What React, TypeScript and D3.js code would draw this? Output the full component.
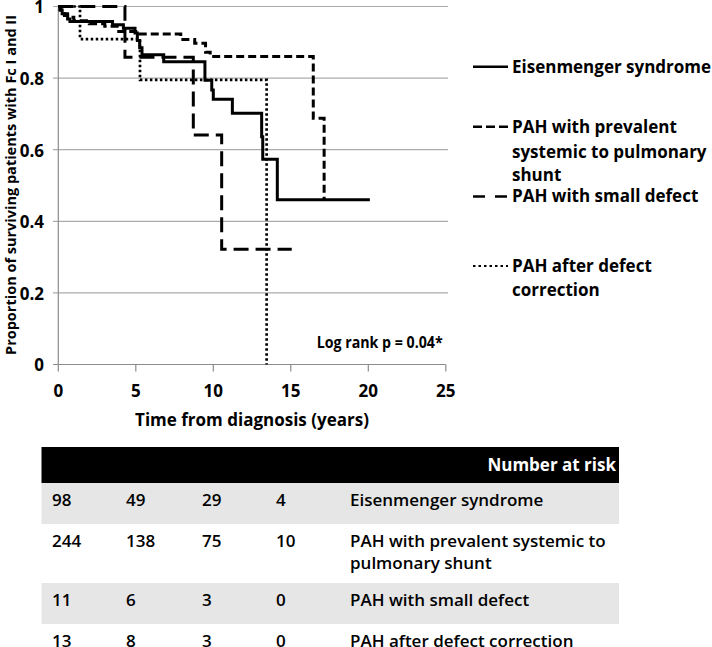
import React from "react";
import * as d3 from "d3";

// ---- data ----
const xTicks = [0, 5, 10, 15, 20, 25];
const yTicks = [0, 0.2, 0.4, 0.6, 0.8, 1];

const esTime = [0, 0.1, 0.25, 0.4, 0.6, 0.75, 3.5, 4.2, 4.95, 5.1, 5.25, 5.4, 6.8, 9.46, 9.9, 10.0, 11.23, 13.12, 13.19, 14.13, 20.1];
const esSurv = [1, 0.99, 0.98, 0.975, 0.965, 0.958, 0.949, 0.939, 0.926, 0.905, 0.885, 0.865, 0.846, 0.794, 0.767, 0.741, 0.702, 0.636, 0.573, 0.46, 0.46];

const shTime = [0, 0.15, 0.35, 0.6, 1.0, 2.0, 3.0, 3.9, 5.2, 7.9, 8.8, 9.5, 9.8, 16.45, 17.15];
const shSurv = [1, 0.99, 0.98, 0.97, 0.96, 0.952, 0.945, 0.93, 0.923, 0.908, 0.897, 0.872, 0.86, 0.688, 0.46];

const sdTime = [0, 4.3, 8.71, 10.54, 15.06];
const sdSurv = [1, 0.858, 0.641, 0.322, 0.322];

const dcTime = [0, 1.4, 5.27, 13.44];
const dcSurv = [1, 0.909, 0.795, 0];

const legendLabels = [
  ["Eisenmenger syndrome"],
  ["PAH with prevalent", "systemic to pulmonary", "shunt"],
  ["PAH with small defect"],
  ["PAH after defect", "correction"],
];

const riskHeader = "Number at risk";
const riskLabels = [
  ["Eisenmenger syndrome"],
  ["PAH with prevalent systemic to", "pulmonary shunt"],
  ["PAH with small defect"],
  ["PAH after defect correction"],
];
const riskEs = [98, 49, 29, 4];
const riskSh = [244, 138, 75, 10];
const riskSd = [11, 6, 3, 0];
const riskDc = [13, 8, 3, 0];

const FONT = "'Open Sans', sans-serif";

export default function App() {
  const x = d3.scaleLinear().domain([0, 25]).range([58.3, 445.8]);
  const y = d3.scaleLinear().domain([0, 1]).range([364.5, 6.5]);

  const line = d3
    .line<[number, number]>()
    .x((d) => x(d[0]))
    .y((d) => y(d[1]))
    .curve(d3.curveStepAfter);

  const zip = (t: number[], s: number[]) => t.map((v, i) => [v, s[i]] as [number, number]);

  const series = [
    { pts: zip(esTime, esSurv), dash: undefined as string | undefined, w: 3, legDash: undefined as string | undefined },
    { pts: zip(shTime, shSurv), dash: "8 4", w: 3, legDash: "9 4" },
    { pts: zip(sdTime, sdSurv), dash: "15 7", w: 3, legDash: "12 10" },
    { pts: zip(dcTime, dcSurv), dash: "2.5 2.5", w: 2.7, legDash: "2.5 3" },
  ];

  const legendLineY = [66.7, 126.7, 196.5, 266];
  const legendTextY = [
    [66.7],
    [126.7, 152, 175.5],
    [196.5],
    [266, 290.5],
  ];

  // table layout
  const tLeft = 41.5;
  const tRight = 619;
  const headerTop = 447;
  const headerH = 36;
  const rowH = [41, 59, 41, 41];
  const colX = [52, 126, 202, 276];
  const labelX = 350;
  const riskRows = [riskEs, riskSh, riskSd, riskDc];

  let rowTop = headerTop + headerH;
  const rows = riskRows.map((vals, i) => {
    const top = rowTop;
    rowTop += rowH[i];
    return { vals, top, h: rowH[i], labels: riskLabels[i], gray: i % 2 === 0 };
  });

  return (
    <svg
      width={712}
      height={647}
      style={{ position: "absolute", left: 0, top: 0, background: "#fff" }}
      fontFamily={FONT}
    >
      {/* gridlines */}
      {yTicks.map((t) =>
        t === 0 ? null : (
          <line key={"g" + t} x1={53} x2={448} y1={y(t)} y2={y(t)} stroke="#ababab" strokeWidth={1.2} />
        )
      )}
      {/* axes */}
      <line x1={x(0)} x2={x(0)} y1={y(1)} y2={y(0)} stroke="#8c8c8c" strokeWidth={1.2} />
      <line x1={53} x2={x(25)} y1={y(0)} y2={y(0)} stroke="#8c8c8c" strokeWidth={1.2} />
      {xTicks.map((t) => (
        <line key={"xt" + t} x1={x(t)} x2={x(t)} y1={y(0)} y2={y(0) + 7} stroke="#8c8c8c" strokeWidth={1.2} />
      ))}
      {yTicks.map((t) => (
        <text key={"yl" + t} x={44} y={y(t) + 1} dy="0.35em" textAnchor="end" fontSize={17} fontWeight={700}>
          {t === 0 || t === 1 ? String(t) : t.toFixed(1)}
        </text>
      ))}
      {xTicks.map((t) => (
        <text key={"xl" + t} x={x(t)} y={397} textAnchor="middle" fontSize={17} fontWeight={700}>
          {t}
        </text>
      ))}
      <text x={252} y={426} textAnchor="middle" fontSize={17} fontWeight={700}>
        Time from diagnosis (years)
      </text>
      <text
        transform={`translate(16,185) rotate(-90)`}
        textAnchor="middle"
        fontSize={14.5}
        fontWeight={700}
      >
        Proportion of surviving patients with Fc I and II
      </text>

      {/* curves */}
      {series.map((s, i) => (
        <path
          key={"s" + i}
          d={line(s.pts) || ""}
          fill="none"
          stroke="#000"
          strokeWidth={s.w}
          strokeDasharray={s.dash}
        />
      ))}

      <text x={316.7} y={347.5} fontSize={16.5} fontWeight={700} textLength={126} lengthAdjust="spacingAndGlyphs">
        Log rank p = 0.04*
      </text>

      {/* legend */}
      {series.map((s, i) => (
        <g key={"lg" + i}>
          <line x1={473} x2={508} y1={legendLineY[i]} y2={legendLineY[i]} stroke="#000" strokeWidth={i === 3 ? 2.2 : 2.5} strokeDasharray={s.legDash} />
          {legendLabels[i].map((lab, j) => (
            <text key={j} x={512} y={legendTextY[i][j]} dy="0.35em" fontSize={17} fontWeight={700}>
              {lab}
            </text>
          ))}
        </g>
      ))}

      {/* risk table */}
      <rect x={tLeft} y={headerTop} width={tRight - tLeft} height={headerH} fill="#000" />
      <text x={tRight - 3} y={headerTop + headerH / 2} dy="0.35em" textAnchor="end" fill="#fff" fontSize={17} fontWeight={700}>
        {riskHeader}
      </text>
      {rows.map((r, i) => (
        <g key={"r" + i}>
          <rect x={tLeft} y={r.top} width={tRight - tLeft} height={r.h} fill={r.gray ? "#e6e6e6" : "#ffffff"} />
          {r.vals.map((v, j) => (
            <text key={j} x={colX[j]} y={r.top + 17} dy="0.35em" fontSize={17} fontWeight={600}>
              {v}
            </text>
          ))}
          {r.labels.map((lab, j) => (
            <text key={"l" + j} x={labelX} y={r.top + 17 + j * 22} dy="0.35em" fontSize={17} fontWeight={600}>
              {lab}
            </text>
          ))}
        </g>
      ))}
    </svg>
  );
}
